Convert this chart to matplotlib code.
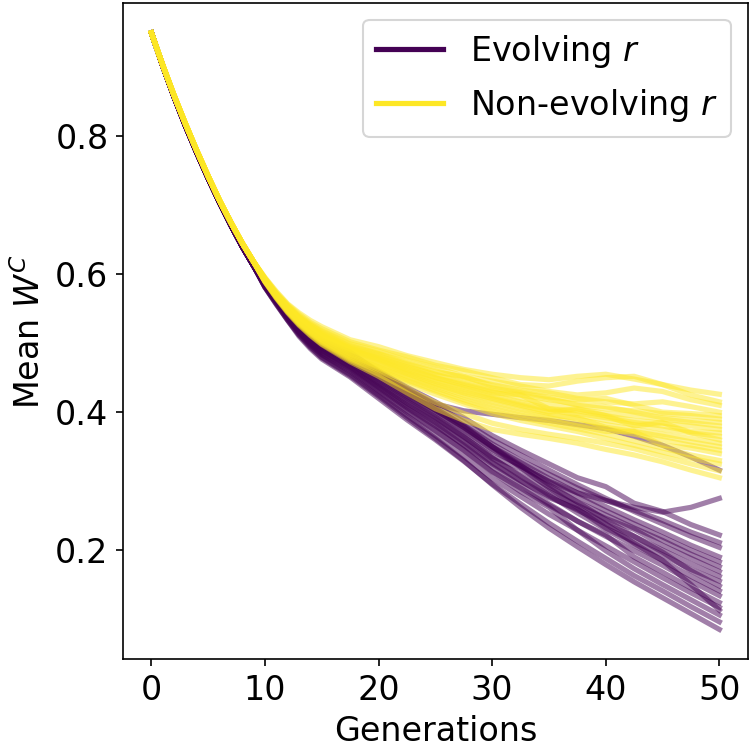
import matplotlib
matplotlib.use("Agg")
import matplotlib.pyplot as plt

# generations sampled early (all runs nearly identical) and later (runs diverge)
gens_early = [0, 1, 2, 3, 4, 5, 6, 7, 8, 9]
gens_late = [10, 11, 12, 13, 14, 15, 17.5, 20, 22.5, 25, 27.5, 30, 32.5, 35, 37.5, 40, 42.5, 45, 47.5, 50]

# shared start of the curves
evolving_early = [0.950, 0.902, 0.857, 0.815, 0.776, 0.739, 0.704, 0.671, 0.640, 0.612]
nonevolving_early = [0.950, 0.903, 0.859, 0.818, 0.779, 0.742, 0.707, 0.675, 0.645, 0.618]

# mean W^C per run, evolving r
evolving_runs = [
    [0.587, 0.566, 0.545, 0.528, 0.514, 0.503, 0.484, 0.460, 0.436, 0.415, 0.392, 0.366, 0.345, 0.325, 0.305, 0.292, 0.268, 0.256, 0.237, 0.222],
    [0.586, 0.563, 0.543, 0.524, 0.509, 0.497, 0.479, 0.453, 0.428, 0.405, 0.381, 0.354, 0.330, 0.310, 0.290, 0.272, 0.262, 0.255, 0.262, 0.275],
    [0.587, 0.565, 0.545, 0.526, 0.512, 0.501, 0.482, 0.458, 0.434, 0.410, 0.386, 0.360, 0.338, 0.316, 0.295, 0.275, 0.256, 0.238, 0.220, 0.204],
    [0.585, 0.562, 0.541, 0.522, 0.506, 0.494, 0.473, 0.447, 0.421, 0.397, 0.371, 0.344, 0.322, 0.300, 0.283, 0.272, 0.258, 0.243, 0.226, 0.211],
    [0.586, 0.562, 0.542, 0.525, 0.510, 0.497, 0.477, 0.451, 0.426, 0.403, 0.378, 0.350, 0.327, 0.304, 0.283, 0.263, 0.244, 0.226, 0.207, 0.190],
    [0.584, 0.562, 0.540, 0.520, 0.505, 0.492, 0.470, 0.442, 0.416, 0.391, 0.364, 0.336, 0.318, 0.292, 0.270, 0.251, 0.232, 0.214, 0.194, 0.176],
    [0.584, 0.561, 0.539, 0.519, 0.503, 0.490, 0.468, 0.440, 0.413, 0.389, 0.362, 0.333, 0.309, 0.285, 0.265, 0.246, 0.230, 0.207, 0.188, 0.169],
    [0.583, 0.560, 0.537, 0.516, 0.500, 0.486, 0.463, 0.434, 0.406, 0.380, 0.353, 0.325, 0.300, 0.278, 0.258, 0.238, 0.220, 0.200, 0.180, 0.162],
    [0.586, 0.564, 0.543, 0.524, 0.510, 0.498, 0.479, 0.453, 0.428, 0.403, 0.378, 0.350, 0.323, 0.295, 0.270, 0.244, 0.220, 0.197, 0.170, 0.148],
    [0.584, 0.561, 0.539, 0.518, 0.502, 0.489, 0.466, 0.438, 0.410, 0.385, 0.357, 0.327, 0.301, 0.276, 0.260, 0.232, 0.212, 0.193, 0.172, 0.155],
    [0.585, 0.562, 0.540, 0.521, 0.505, 0.493, 0.471, 0.444, 0.418, 0.393, 0.365, 0.334, 0.307, 0.280, 0.254, 0.230, 0.207, 0.185, 0.162, 0.141],
    [0.582, 0.559, 0.535, 0.514, 0.497, 0.483, 0.459, 0.429, 0.400, 0.373, 0.345, 0.314, 0.290, 0.265, 0.242, 0.220, 0.199, 0.178, 0.155, 0.134],
    [0.583, 0.560, 0.537, 0.517, 0.500, 0.487, 0.464, 0.436, 0.408, 0.382, 0.352, 0.321, 0.294, 0.267, 0.242, 0.222, 0.190, 0.168, 0.145, 0.124],
    [0.581, 0.557, 0.534, 0.512, 0.495, 0.480, 0.455, 0.425, 0.395, 0.366, 0.336, 0.304, 0.278, 0.252, 0.229, 0.206, 0.183, 0.160, 0.138, 0.117],
    [0.582, 0.559, 0.536, 0.515, 0.498, 0.484, 0.461, 0.431, 0.402, 0.375, 0.345, 0.313, 0.285, 0.262, 0.229, 0.199, 0.173, 0.150, 0.128, 0.106],
    [0.581, 0.556, 0.533, 0.510, 0.492, 0.477, 0.451, 0.420, 0.389, 0.360, 0.329, 0.296, 0.267, 0.239, 0.213, 0.188, 0.163, 0.141, 0.118, 0.096],
    [0.581, 0.557, 0.533, 0.512, 0.494, 0.479, 0.453, 0.423, 0.392, 0.362, 0.330, 0.295, 0.262, 0.232, 0.205, 0.179, 0.154, 0.131, 0.108, 0.085],
    [0.587, 0.565, 0.544, 0.526, 0.511, 0.500, 0.481, 0.456, 0.431, 0.406, 0.380, 0.350, 0.320, 0.290, 0.262, 0.238, 0.210, 0.185, 0.150, 0.113],
    [0.588, 0.566, 0.546, 0.528, 0.515, 0.504, 0.487, 0.458, 0.432, 0.412, 0.402, 0.397, 0.392, 0.388, 0.382, 0.376, 0.365, 0.352, 0.335, 0.316],
    [0.586, 0.563, 0.542, 0.523, 0.508, 0.496, 0.475, 0.449, 0.423, 0.400, 0.374, 0.346, 0.322, 0.299, 0.278, 0.257, 0.238, 0.219, 0.200, 0.183],
]

# mean W^C per run, non-evolving r
nonevolving_runs = [
    [0.595, 0.575, 0.557, 0.544, 0.533, 0.524, 0.505, 0.495, 0.482, 0.472, 0.462, 0.455, 0.450, 0.447, 0.452, 0.455, 0.448, 0.440, 0.432, 0.426],
    [0.595, 0.574, 0.556, 0.542, 0.530, 0.521, 0.502, 0.490, 0.480, 0.468, 0.460, 0.450, 0.440, 0.438, 0.445, 0.450, 0.452, 0.440, 0.425, 0.415],
    [0.594, 0.572, 0.555, 0.540, 0.528, 0.518, 0.499, 0.488, 0.475, 0.465, 0.452, 0.445, 0.438, 0.430, 0.425, 0.428, 0.435, 0.430, 0.418, 0.410],
    [0.593, 0.572, 0.553, 0.538, 0.526, 0.516, 0.497, 0.485, 0.472, 0.460, 0.450, 0.440, 0.432, 0.428, 0.420, 0.415, 0.412, 0.415, 0.408, 0.400],
    [0.593, 0.571, 0.554, 0.538, 0.526, 0.516, 0.495, 0.484, 0.470, 0.458, 0.452, 0.438, 0.430, 0.422, 0.418, 0.420, 0.410, 0.400, 0.398, 0.395],
    [0.593, 0.571, 0.553, 0.537, 0.524, 0.514, 0.494, 0.482, 0.468, 0.455, 0.445, 0.435, 0.428, 0.420, 0.410, 0.405, 0.402, 0.398, 0.395, 0.390],
    [0.592, 0.571, 0.552, 0.536, 0.524, 0.513, 0.493, 0.480, 0.466, 0.454, 0.442, 0.432, 0.425, 0.418, 0.412, 0.408, 0.400, 0.392, 0.388, 0.385],
    [0.592, 0.570, 0.551, 0.536, 0.523, 0.512, 0.492, 0.478, 0.464, 0.450, 0.440, 0.430, 0.420, 0.412, 0.405, 0.398, 0.395, 0.390, 0.385, 0.380],
    [0.592, 0.570, 0.551, 0.535, 0.522, 0.511, 0.491, 0.477, 0.462, 0.450, 0.438, 0.428, 0.425, 0.405, 0.402, 0.395, 0.388, 0.384, 0.380, 0.375],
    [0.592, 0.570, 0.550, 0.534, 0.521, 0.510, 0.490, 0.476, 0.460, 0.447, 0.436, 0.425, 0.415, 0.405, 0.398, 0.392, 0.385, 0.380, 0.372, 0.370],
    [0.591, 0.569, 0.550, 0.534, 0.520, 0.509, 0.489, 0.475, 0.458, 0.445, 0.433, 0.422, 0.412, 0.404, 0.396, 0.388, 0.382, 0.375, 0.370, 0.365],
    [0.591, 0.569, 0.549, 0.533, 0.519, 0.508, 0.487, 0.472, 0.456, 0.442, 0.430, 0.420, 0.410, 0.400, 0.405, 0.395, 0.380, 0.385, 0.370, 0.360],
    [0.591, 0.569, 0.550, 0.533, 0.520, 0.508, 0.485, 0.470, 0.455, 0.440, 0.428, 0.418, 0.408, 0.398, 0.390, 0.382, 0.375, 0.368, 0.362, 0.355],
    [0.591, 0.568, 0.548, 0.532, 0.518, 0.506, 0.484, 0.468, 0.452, 0.438, 0.425, 0.414, 0.404, 0.395, 0.392, 0.378, 0.372, 0.365, 0.357, 0.350],
    [0.590, 0.568, 0.548, 0.531, 0.517, 0.505, 0.482, 0.466, 0.450, 0.435, 0.422, 0.410, 0.400, 0.392, 0.384, 0.376, 0.368, 0.360, 0.352, 0.345],
    [0.590, 0.568, 0.547, 0.530, 0.516, 0.504, 0.481, 0.464, 0.447, 0.432, 0.418, 0.406, 0.396, 0.388, 0.380, 0.372, 0.372, 0.352, 0.348, 0.340],
    [0.590, 0.567, 0.546, 0.529, 0.515, 0.502, 0.479, 0.462, 0.445, 0.430, 0.415, 0.402, 0.392, 0.384, 0.376, 0.368, 0.358, 0.348, 0.338, 0.330],
    [0.589, 0.566, 0.546, 0.528, 0.514, 0.501, 0.477, 0.460, 0.442, 0.426, 0.412, 0.398, 0.388, 0.380, 0.372, 0.362, 0.352, 0.342, 0.333, 0.325],
    [0.589, 0.566, 0.545, 0.527, 0.512, 0.499, 0.475, 0.455, 0.434, 0.414, 0.398, 0.384, 0.375, 0.368, 0.362, 0.355, 0.347, 0.336, 0.325, 0.315],
    [0.589, 0.565, 0.544, 0.526, 0.511, 0.498, 0.473, 0.452, 0.428, 0.405, 0.388, 0.375, 0.368, 0.362, 0.355, 0.346, 0.338, 0.328, 0.316, 0.305],
]

evolving_color = "#440154"
nonevolving_color = "#fde725"

plt.rcParams['font.size'] = 16

fig = plt.figure(figsize=(5, 5), dpi=150)
ax = fig.add_axes([0.164, 0.121, 0.833, 0.875])

gens = gens_early + gens_late
for run in evolving_runs:
    ax.plot(gens, evolving_early + run, color=evolving_color, alpha=0.5, linewidth=2.5)
for run in nonevolving_runs:
    ax.plot(gens, nonevolving_early + run, color=nonevolving_color, alpha=0.5, linewidth=2.5)

# legend handles at full opacity
ax.plot([], [], color=evolving_color, linewidth=2.5, label="Evolving $r$")
ax.plot([], [], color=nonevolving_color, linewidth=2.5, label="Non-evolving $r$")

ax.set_xlabel("Generations")
ax.set_ylabel("Mean $W^C$")
ax.set_xticks([0, 10, 20, 30, 40, 50])
ax.set_yticks([0.2, 0.4, 0.6, 0.8])

handles, labels = ax.get_legend_handles_labels()
ax.legend(handles[-2:], labels[-2:], loc="upper right")

fig.savefig("out.png", dpi=150)
